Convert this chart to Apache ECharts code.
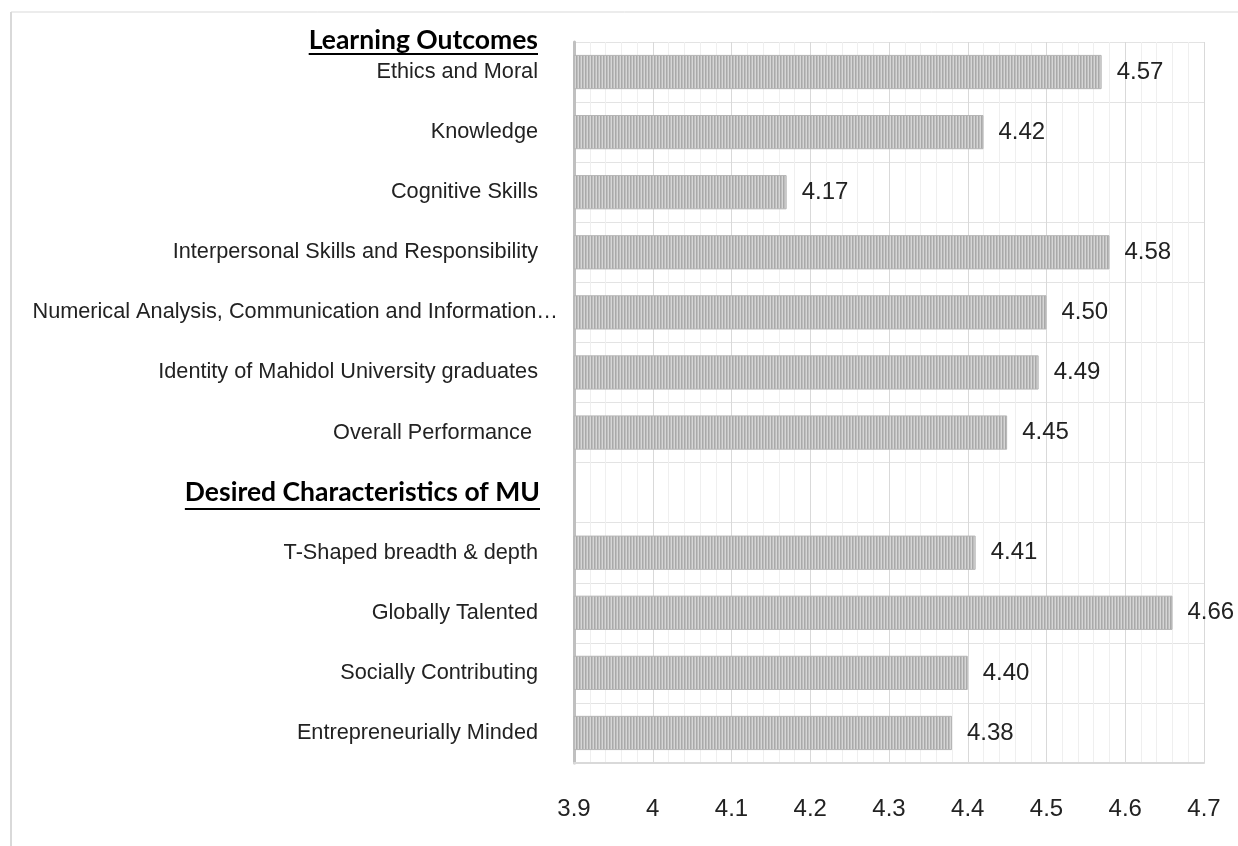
<!DOCTYPE html>
<html>
<head>
<meta charset="utf-8">
<script src="https://cdn.jsdelivr.net/npm/echarts@6/dist/echarts.min.js"></script>
<style>
  html, body { margin: 0; padding: 0; background: #fff; }
  #chart { width: 1238px; height: 846px; }
</style>
</head>
<body>
<div id="chart"></div>
<script>
// categories top to bottom, '' is the spacer row under the second heading
var categories = [
  'Ethics and Moral',
  'Knowledge',
  'Cognitive Skills',
  'Interpersonal Skills and Responsibility',
  'Numerical Analysis, Communication and Information…',
  'Identity of Mahidol University graduates',
  'Overall Performance ',
  '',
  'T-Shaped breadth & depth',
  'Globally Talented',
  'Socially Contributing',
  'Entrepreneurially Minded'
]
var scores = [4.57, 4.42, 4.17, 4.58, 4.50, 4.49, 4.45, null, 4.41, 4.66, 4.40, 4.38]
var headings = ['Learning Outcomes', 'Desired Characteristics of MU']
var xTicks = { min: 3.9, max: 4.7, step: 0.1 }

var labelFont = 'Arial'
var catSize = 21.7
var headFont = 'bold 26.5px Lato, "Open Sans", sans-serif'

// vertical striped fill like the original bars
var stripe = document.createElement('canvas')
stripe.width = 3
stripe.height = 2
var sctx = stripe.getContext('2d')
var stripeCols = ['#a9a9a9', '#bebebe', '#d6d6d6']
for (var i = 0; i < 3; i++) {
  sctx.fillStyle = stripeCols[i]
  sctx.fillRect(i, 0, 1, 2)
}

// width of the headings so the underline fits the text
var mctx = document.createElement('canvas').getContext('2d')
mctx.font = headFont
var headW = headings.map(function (h) { return mctx.measureText(h).width })

var chart = echarts.init(document.getElementById('chart'), null, {renderer: 'canvas'})

var headingStyle = {
  font: headFont,
  fill: '#000',
  textAlign: 'right',
  textVerticalAlign: 'middle'
}

chart.setOption({
  animation: false,
  backgroundColor: '#fff',
  grid: {
    left: 574,
    right: 34,
    top: 42,
    bottom: 83,
    containLabel: false
  },
  xAxis: {
    type: 'value',
    min: xTicks.min,
    max: xTicks.max,
    interval: xTicks.step,
    axisLine: { show: true, lineStyle: { color: '#d9d9d9', width: 2 } },
    axisTick: { show: false },
    axisLabel: {
      margin: 34,
      fontSize: 24,
      color: '#222',
      fontFamily: labelFont
    },
    splitLine: { show: true, lineStyle: { color: '#d9d9d9', width: 1 } },
    minorTick: { show: false, splitNumber: 5 },
    minorSplitLine: { show: true, lineStyle: { color: '#efefef', width: 1 } }
  },
  yAxis: {
    type: 'category',
    inverse: true,
    data: categories,
    axisLine: { show: true, lineStyle: { color: '#c0c0c0', width: 3 } },
    axisTick: { show: false },
    axisLabel: {
      margin: 16,
      fontSize: catSize,
      color: '#222',
      fontFamily: labelFont,
      formatter: function (v) {
        // the cut-off label runs closer to the axis than the rest
        return v.indexOf('…') > -1 ? '{n|' + v + '}' : '{a|' + v + '}'
      },
      rich: {
        a: { fontSize: catSize, fontFamily: labelFont, color: '#222', padding: [0, 20, 0, 0] },
        n: { fontSize: catSize, fontFamily: labelFont, color: '#222' }
      }
    },
    splitLine: { show: true, interval: 0, lineStyle: { color: '#e3e3e3', width: 1 } }
  },
  series: [{
    type: 'bar',
    data: scores,
    barWidth: '57%',
    itemStyle: {
      color: { image: stripe, repeat: 'repeat' },
      borderColor: '#b5b5b5',
      borderWidth: 1
    },
    label: {
      show: true,
      position: 'right',
      distance: 15,
      fontSize: 24,
      color: '#222',
      fontFamily: labelFont,
      formatter: function (p) {
        return p.value == null ? '' : p.value.toFixed(2)
      }
    }
  }],
  graphic: [
    // outer frame (left + top only, as in the picture)
    { type: 'line', shape: { x1: 11, y1: 12, x2: 11, y2: 846 }, style: { stroke: '#d9d9d9', lineWidth: 2 } },
    { type: 'line', shape: { x1: 11, y1: 12, x2: 1238, y2: 12 }, style: { stroke: '#d9d9d9', lineWidth: 1 } },
    { type: 'text', x: 538, y: 40, style: Object.assign({ text: headings[0] }, headingStyle) },
    { type: 'line', shape: { x1: 538 - headW[0], y1: 54, x2: 538, y2: 54 }, style: { stroke: '#000', lineWidth: 2 } },
    { type: 'text', x: 540, y: 492, style: Object.assign({ text: headings[1] }, headingStyle) },
    { type: 'line', shape: { x1: 540 - headW[1], y1: 509, x2: 540, y2: 509 }, style: { stroke: '#000', lineWidth: 2 } }
  ]
})
</script>
</body>
</html>
